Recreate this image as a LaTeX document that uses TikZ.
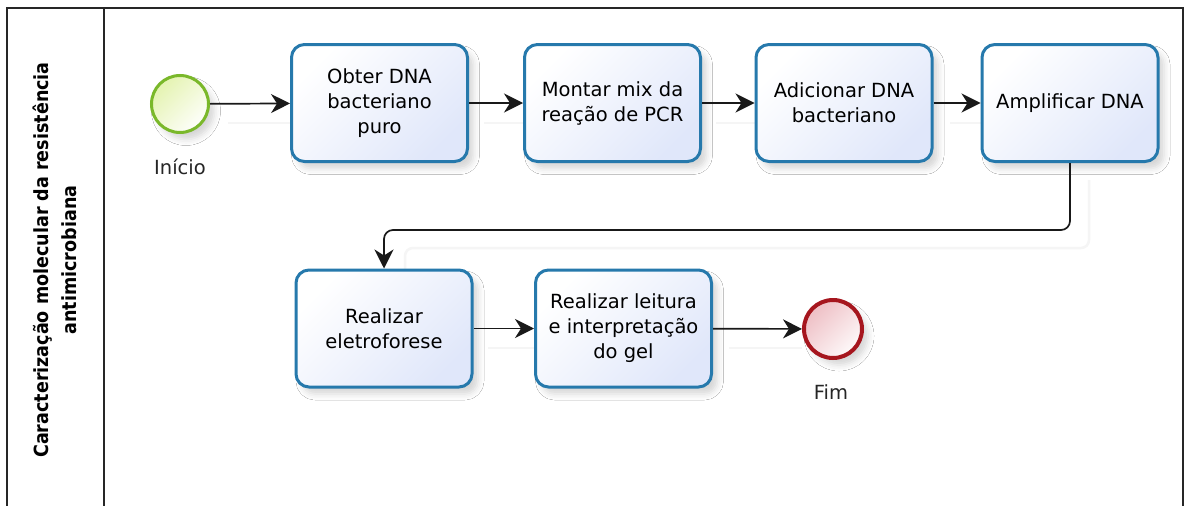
\documentclass[tikz,border=0pt]{standalone}
\usepackage{fontspec}
\setmainfont{DejaVu Sans}
\newfontfamily\lanefont{DejaVu Sans Condensed}
\usetikzlibrary{arrows.meta,shadows.blur}

\definecolor{taskborder}{RGB}{38,121,172}
\definecolor{taskfill}{RGB}{224,231,250}
\definecolor{startborder}{RGB}{122,184,42}
\definecolor{startfill}{RGB}{228,243,176}
\definecolor{endborder}{RGB}{166,22,30}
\definecolor{endfill}{RGB}{238,190,196}

\tikzset{
  every node/.style={font=\fontsize{19.5}{25}\selectfont},
  frameline/.style={line width=1.6pt, draw=black!85},
  softshadow/.style={blur shadow={shadow xshift=6pt, shadow yshift=-7pt,
      shadow blur radius=6pt, shadow opacity=16}},
  task/.style={softshadow, draw=taskborder, line width=3pt, rounded corners=13pt,
      top color=white, bottom color=taskfill, shading angle=45,
      minimum width=176pt, minimum height=117pt, align=center, inner sep=4pt},
  startev/.style={softshadow, circle, draw=startborder, line width=3pt,
      top color=startfill, bottom color=white!95!startfill, shading angle=45,
      minimum size=57pt, inner sep=0pt},
  endev/.style={softshadow, circle, draw=endborder, line width=4pt,
      top color=endfill, bottom color=white!92!endfill, shading angle=45,
      minimum size=58pt, inner sep=0pt},
  evlabel/.style={text=black!85},
  flow/.style={line width=1.7pt, draw=black!90,
      -{Stealth[length=19pt, width=19pt, inset=6pt]}},
  flowshadow/.style={line width=2.5pt, draw=black!4, rounded corners=8pt},
}

\begin{document}
\begin{tikzpicture}[x=1pt, y=-1pt]
  \useasboundingbox (0,0) rectangle (1189,506);
  \fill[white] (0,0) rectangle (1189,506);

  % pool frame and lane header
  \draw[frameline] (7,512) -- (7,8) -- (1183,8) -- (1183,512);
  \draw[frameline] (104,8) -- (104,512);
  \node[rotate=90, align=center, font=\lanefont\bfseries\fontsize{19.5}{28}\selectfont]
    (lane) at (55,260) {Caracterização molecular da resistência\\antimicrobiana};

  % faint connector shadows
  \draw[flowshadow] (228,123) -- (291,123);
  \draw[flowshadow] (484,123) -- (526,123);
  \draw[flowshadow] (716,123) -- (755,123);
  \draw[flowshadow] (950,123) -- (982,123);
  \draw[flowshadow] (1089,180) -- (1089,248) -- (405,248) -- (405,270);
  \draw[flowshadow] (488,348) -- (535,348);
  \draw[flowshadow] (729,348) -- (802,348);

  % events
  \node[startev] (start) at (180,104) {};
  \node[evlabel] (startlbl) at (180,167) {Início};
  \node[endev] (finish) at (833,329) {};
  \node[evlabel] (finishlbl) at (831,392) {Fim};

  % tasks
  \node[task] (t1) at (379.5,103) {Obter DNA\\bacteriano\\puro};
  \node[task] (t2) at (612.5,103) {Montar mix da\\reação de PCR};
  \node[task] (t3) at (844,103) {Adicionar DNA\\bacteriano};
  \node[task] (t4) at (1070,103) {Amplificar DNA};
  \node[task] (t5) at (384,328.5) {Realizar\\eletroforese};
  \node[task] (t6) at (623.5,328.5) {Realizar leitura\\e interpretação\\do gel};

  % sequence flows
  \draw[flow] (start) -- (t1);
  \draw[flow] (t1) -- (t2);
  \draw[flow] (t2) -- (t3);
  \draw[flow] (t3) -- (t4);
  \draw[flow, rounded corners=9pt] (t4.south) -- ++(0,67) -| (t5.north);
  \draw[flow] (t5) -- (t6);
  \draw[flow] (t6) -- (finish);
\end{tikzpicture}
\end{document}
